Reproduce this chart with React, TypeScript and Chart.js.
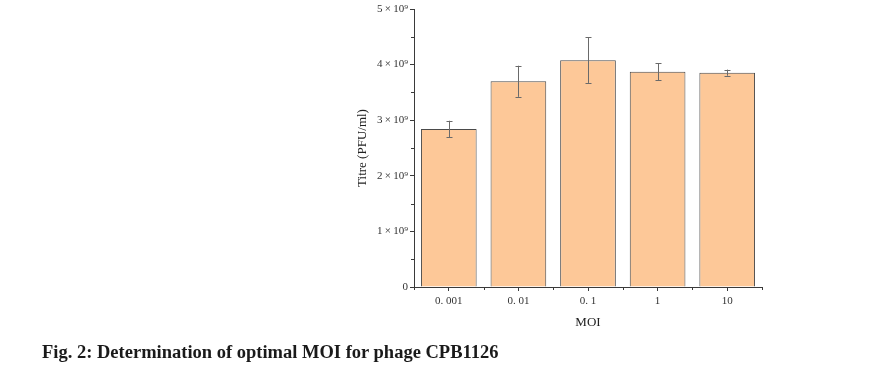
import React, { useEffect, useRef } from "react";
import { Chart, registerables } from "chart.js";

Chart.register(...registerables);

const categories = ["0. 001", "0. 01", "0. 1", "1", "10"];
const titreValues = [2.84e9, 3.7e9, 4.08e9, 3.87e9, 3.855e9];
const titreErrors = [0.15e9, 0.28e9, 0.41e9, 0.15e9, 0.055e9];
const yTickLabels: Record<number, string> = {
  0: "0",
  1: "1\u2009×\u200910⁹",
  2: "2\u2009×\u200910⁹",
  3: "3\u2009×\u200910⁹",
  4: "4\u2009×\u200910⁹",
  5: "5\u2009×\u200910⁹",
};
const yMinorTicks = [0.5e9, 1.5e9, 2.5e9, 3.5e9, 4.5e9];

const FONT = "'Liberation Serif', 'Times New Roman', serif";
const AXIS_COLOR = "#3a3a3a";

const extrasPlugin = {
  id: "extras",
  afterDatasetsDraw(chart: any) {
    const ctx = chart.ctx;
    const yScale = chart.scales.y;
    const xScale = chart.scales.x;
    const meta = chart.getDatasetMeta(0);
    ctx.save();
    // error bars
    ctx.strokeStyle = "#6a6a6a";
    ctx.lineWidth = 1;
    meta.data.forEach((bar: any, i: number) => {
      const x = Math.round(bar.x) + 0.5;
      const yTop = yScale.getPixelForValue(titreValues[i] + titreErrors[i]);
      const yBot = yScale.getPixelForValue(titreValues[i] - titreErrors[i]);
      ctx.beginPath();
      ctx.moveTo(x, yTop);
      ctx.lineTo(x, yBot);
      ctx.moveTo(x - 3, Math.round(yTop) + 0.5);
      ctx.lineTo(x + 3, Math.round(yTop) + 0.5);
      ctx.moveTo(x - 3, Math.round(yBot) + 0.5);
      ctx.lineTo(x + 3, Math.round(yBot) + 0.5);
      ctx.stroke();
    });
    // minor y ticks
    ctx.strokeStyle = AXIS_COLOR;
    const left = chart.chartArea.left;
    yMinorTicks.forEach((v) => {
      const y = Math.round(yScale.getPixelForValue(v)) + 0.5;
      ctx.beginPath();
      ctx.moveTo(left - 3, y);
      ctx.lineTo(left, y);
      ctx.stroke();
    });
    // boundary x ticks
    const bottom = chart.chartArea.bottom;
    const n = categories.length;
    const bounds: number[] = [xScale.left];
    for (let i = 0; i < n - 1; i++) {
      bounds.push((xScale.getPixelForValue(i) + xScale.getPixelForValue(i + 1)) / 2);
    }
    bounds.push(xScale.right);
    bounds.forEach((bx) => {
      const x = Math.round(bx) + 0.5;
      ctx.beginPath();
      ctx.moveTo(x, bottom);
      ctx.lineTo(x, bottom + 3);
      ctx.stroke();
    });
    ctx.restore();
  },
};

export default function App() {
  const canvasRef = useRef<HTMLCanvasElement | null>(null);

  useEffect(() => {
    if (!canvasRef.current) return;
    const chart = new Chart(canvasRef.current, {
      type: "bar",
      data: {
        labels: categories,
        datasets: [
          {
            data: titreValues,
            backgroundColor: "#FDC898",
            borderColor: "#4a4a4a",
            borderWidth: 1,
            barPercentage: 0.8,
            categoryPercentage: 1,
          },
        ],
      },
      options: {
        animation: false,
        responsive: false,
        maintainAspectRatio: false,
        layout: { padding: { left: 355, right: 128, top: 9, bottom: 40 } },
        plugins: {
          legend: { display: false },
          tooltip: { enabled: false },
        },
        scales: {
          x: {
            grid: {
              display: true,
              drawOnChartArea: false,
              drawTicks: true,
              tickLength: 4,
              offset: false,
              color: AXIS_COLOR,
            },
            border: { display: true, color: AXIS_COLOR, width: 1 },
            ticks: {
              color: "#333",
              padding: 4,
              maxRotation: 0,
              font: { family: FONT, size: 11 },
            },
            title: {
              display: true,
              text: "MOI",
              color: "#222",
              padding: 0,
              font: { family: FONT, size: 13 },
            },
            afterFit: (scale: any) => {
              scale.height = 43;
            },
          },
          y: {
            min: 0,
            max: 5e9,
            grid: {
              display: true,
              drawOnChartArea: false,
              drawTicks: true,
              tickLength: 4,
              color: AXIS_COLOR,
            },
            border: { display: true, color: AXIS_COLOR, width: 1 },
            ticks: {
              stepSize: 1e9,
              color: "#333",
              padding: 2,
              font: { family: FONT, size: 11 },
              callback: (v: any) => yTickLabels[Math.round(Number(v) / 1e9)] ?? "",
            },
            title: {
              display: true,
              text: "Titre (PFU/ml)",
              color: "#222",
              padding: 0,
              font: { family: FONT, size: 13 },
            },
            afterFit: (scale: any) => {
              scale.width = 59;
            },
          },
        },
      },
      plugins: [extrasPlugin],
    });
    return () => chart.destroy();
  }, []);

  return (
    <div
      style={{
        position: "fixed",
        left: 0,
        top: 0,
        width: 890,
        height: 370,
        background: "#fff",
        overflow: "hidden",
      }}
    >
      <canvas
        ref={canvasRef}
        width={890}
        height={370}
        style={{ position: "absolute", left: 0, top: 0, width: 890, height: 370 }}
      />
      <div
        style={{
          position: "absolute",
          left: 42,
          top: 343,
          fontFamily: FONT,
          fontWeight: "bold",
          fontSize: 18.5,
          lineHeight: "18px",
          color: "#1a1a1a",
          whiteSpace: "nowrap",
        }}
      >
        Fig. 2: Determination of optimal MOI for phage CPB1126
      </div>
    </div>
  );
}
